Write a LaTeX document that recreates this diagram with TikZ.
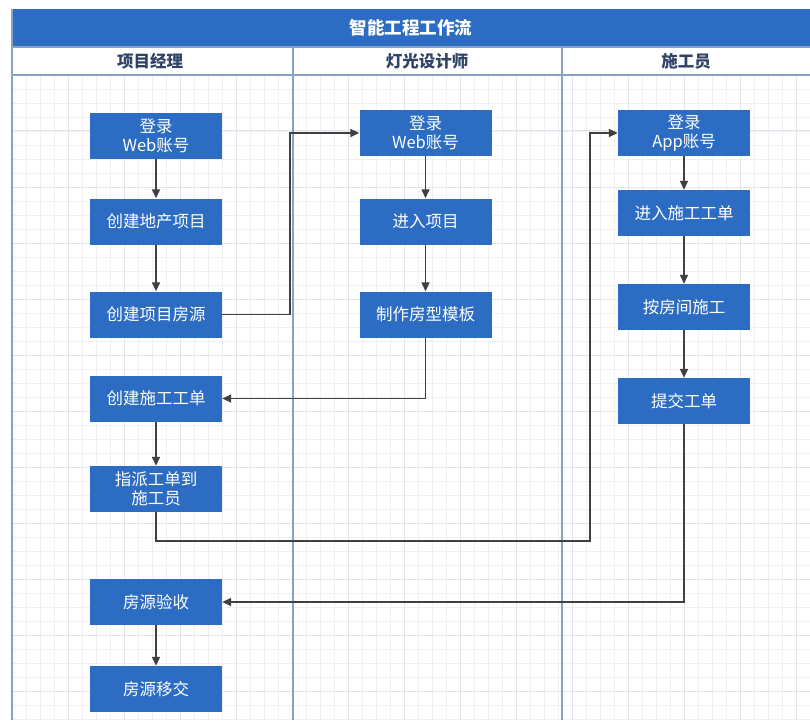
\documentclass[tikz,border=0pt]{standalone}
\usepackage{fontspec}
\usepackage{xcolor}
\usepackage{tikz}
\usetikzlibrary{arrows.meta, positioning, calc}
\newfontfamily\cjk{Noto Sans CJK SC}
\definecolor{flowblue}{RGB}{44, 108, 194}
\definecolor{lanegray}{RGB}{134, 162, 200}
\definecolor{headink}{RGB}{48, 66, 102}
\definecolor{wireink}{RGB}{64, 64, 64}
\definecolor{gridminor}{RGB}{238, 240, 244}
\definecolor{gridmajor}{RGB}{226, 229, 235}

\begin{document}
\begin{tikzpicture}[x=1pt, y=-1pt, >={Triangle[length=9pt,width=8pt]},
    task/.style={fill=flowblue, text=white, minimum width=132pt, minimum height=46pt,
        inner sep=0pt, align=center, font=\cjk\fontsize{16.5}{19.5}\selectfont},
    lanehead/.style={text=headink, font=\cjk\bfseries\fontsize{16.5}{18}\selectfont},
    flow/.style={->, draw=wireink, line width=1.5pt}]
    \useasboundingbox (0,0) rectangle (810,722);
    \fill[white] (0,0) rectangle (810,722);

    % grid
    \foreach \gx in {26,40,...,810} {
        \draw[gridminor, line width=0.8pt] (\gx,75) -- (\gx,720);
    }
    \foreach \gy in {89,103,...,720} {
        \draw[gridminor, line width=0.8pt] (12,\gy) -- (810,\gy);
    }
    \foreach \gx in {68,124,...,810} {
        \draw[gridmajor, line width=1pt] (\gx,75) -- (\gx,720);
    }
    \foreach \gy in {131,187,...,720} {
        \draw[gridmajor, line width=1pt] (12,\gy) -- (810,\gy);
    }

    % pool and lanes
    \fill[flowblue] (12,9) rectangle (810,47);
    \node[text=white, font=\cjk\bfseries\fontsize{17.5}{20}\selectfont] (title) at (411,28) {智能工程工作流};
    \draw[lanegray, line width=1.2pt] (12,47) -- (810,47);
    \draw[lanegray, line width=1.2pt] (12,75) -- (810,75);
    \draw[lanegray, line width=1.2pt] (12,9) -- (12,720);
    \draw[lanegray, line width=1.2pt] (293,47) -- (293,720);
    \draw[lanegray, line width=1.2pt] (562,47) -- (562,720);
    \node[lanehead] (hpm) at (150,61) {项目经理};
    \node[lanehead] (hld) at (427,61) {灯光设计师};
    \node[lanehead] (hwk) at (686,61) {施工员};

    % project manager
    \node[task] (pm1) at (156,136) {登录\\Web账号};
    \node[task] (pm2) at (156,221.5) {创建地产项目};
    \node[task] (pm3) at (156,314.5) {创建项目房源};
    \node[task] (pm4) at (156,398.5) {创建施工工单};
    \node[task] (pm5) at (156,489) {指派工单到\\施工员};
    \node[task] (pm6) at (156,602) {房源验收};
    \node[task] (pm7) at (156,689) {房源移交};

    % lighting designer
    \node[task] (ld1) at (425.5,133) {登录\\Web账号};
    \node[task] (ld2) at (425.5,221.5) {进入项目};
    \node[task] (ld3) at (425.5,314.5) {制作房型模板};

    % worker
    \node[task] (wk1) at (684,133) {登录\\App账号};
    \node[task] (wk2) at (684,213) {进入施工工单};
    \node[task] (wk3) at (684,307) {按房间施工};
    \node[task] (wk4) at (684,401) {提交工单};

    \coordinate (bendA) at (290,314.5);
    \coordinate (bendB) at (590,541);

    \draw[flow] (pm1) -- (pm2);
    \draw[flow] (pm2) -- (pm3);
    \draw[flow] (pm4) -- (pm5);
    \draw[flow] (pm6) -- (pm7);
    \draw[flow] (ld1) -- (ld2);
    \draw[flow] (ld2) -- (ld3);
    \draw[flow] (wk1) -- (wk2);
    \draw[flow] (wk2) -- (wk3);
    \draw[flow] (wk3) -- (wk4);
    \draw[flow] (pm3.east) -- (bendA) |- (ld1.west);
    \draw[flow] (ld3.south) |- (pm4.east);
    \draw[flow] (pm5.south) |- (bendB) |- (wk1.west);
    \draw[flow] (wk4.south) |- (pm6.east);
\end{tikzpicture}
\end{document}
